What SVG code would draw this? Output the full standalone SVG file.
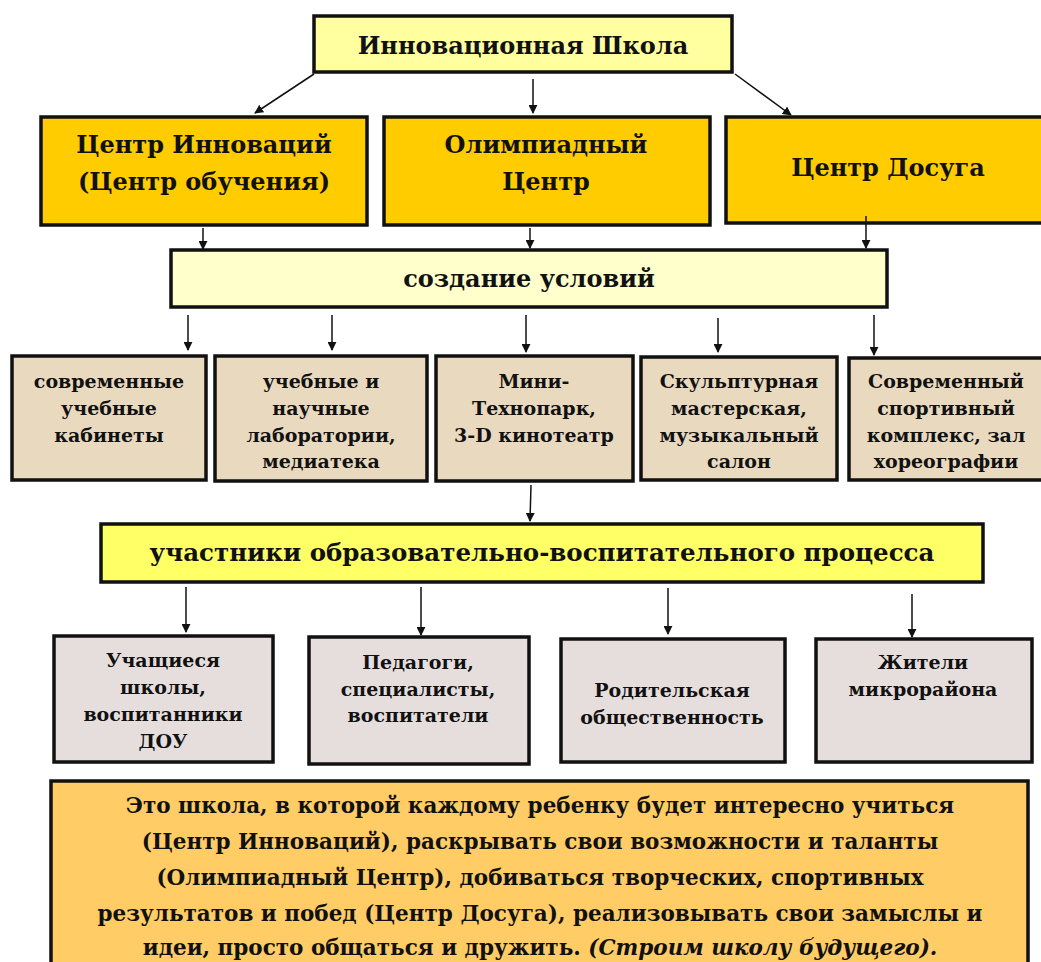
<svg xmlns="http://www.w3.org/2000/svg" width="1041" height="962" viewBox="0 0 1041 962">
<style>
.b{stroke:#111;stroke-width:3.5}
.t{font-family:"DejaVu Serif","Liberation Serif",serif;font-weight:bold;fill:#111;text-anchor:middle}
.l{font-size:24px}
.w{font-size:24.5px}
.m{font-size:19px}
.s{font-size:21.5px}
.c{stroke:#111;stroke-width:1.5;fill:none;marker-end:url(#a)}
</style>
<defs>
<marker id="a" viewBox="0 0 10 10" refX="9" refY="5" markerWidth="9" markerHeight="9" markerUnits="userSpaceOnUse" orient="auto"><path d="M0,0 L10,5 L0,10 z" fill="#111"/></marker>
</defs>
<rect width="1041" height="962" fill="#fff"/>
<g id="n-school"><rect class="b" x="314" y="16" width="418" height="56" fill="#ffffa0"/><text class="t l" x="523" y="54">Инновационная Школа</text></g>
<g id="n-innov"><rect class="b" x="41" y="117" width="326" height="108" fill="#ffcc00"/><text class="t l" x="204" y="153">Центр Инноваций</text><text class="t l" x="204" y="190">(Центр обучения)</text></g>
<g id="n-olymp"><rect class="b" x="384" y="117" width="326" height="108" fill="#ffcc00"/><text class="t l" x="546" y="153">Олимпиадный</text><text class="t l" x="546" y="190">Центр</text></g>
<g id="n-dosug"><rect class="b" x="726" y="117" width="330" height="106" fill="#ffcc00"/><text class="t l" x="888" y="176">Центр Досуга</text></g>
<g id="n-uslov"><rect class="b" x="171" y="250" width="716" height="57" fill="#ffffcc"/><text class="t l" x="529" y="287">создание условий</text></g>
<g id="n-kab"><rect class="b" x="12" y="356" width="194" height="124" fill="#e8d9bf"/><text class="t m" x="109" y="388">современные</text><text class="t m" x="109" y="415">учебные</text><text class="t m" x="109" y="442">кабинеты</text></g>
<g id="n-lab"><rect class="b" x="215" y="356" width="212" height="125" fill="#e8d9bf"/><text class="t m" x="321" y="388">учебные и</text><text class="t m" x="321" y="415">научные</text><text class="t m" x="321" y="442">лаборатории,</text><text class="t m" x="321" y="468">медиатека</text></g>
<g id="n-tech"><rect class="b" x="436" y="356" width="197" height="125" fill="#e8d9bf"/><text class="t m" x="534" y="388">Мини-</text><text class="t m" x="534" y="415">Технопарк,</text><text class="t m" x="534" y="442">3-D кинотеатр</text></g>
<g id="n-sculpt"><rect class="b" x="641" y="357" width="196" height="123" fill="#e8d9bf"/><text class="t m" x="739" y="388">Скульптурная</text><text class="t m" x="739" y="415">мастерская,</text><text class="t m" x="739" y="442">музыкальный</text><text class="t m" x="739" y="468">салон</text></g>
<g id="n-sport"><rect class="b" x="849" y="358" width="200" height="122" fill="#e8d9bf"/><text class="t m" x="946" y="388">Современный</text><text class="t m" x="946" y="415">спортивный</text><text class="t m" x="946" y="442">комплекс, зал</text><text class="t m" x="946" y="468">хореографии</text></g>
<g id="n-uch"><rect class="b" x="101" y="524" width="882" height="58" fill="#ffff66"/><text class="t w" x="542" y="561">участники образовательно-воспитательного процесса</text></g>
<g id="n-pupils"><rect class="b" x="54" y="636" width="219" height="126" fill="#e6dedd"/><text class="t m" x="163" y="667">Учащиеся</text><text class="t m" x="163" y="694">школы,</text><text class="t m" x="163" y="721">воспитанники</text><text class="t m" x="163" y="748">ДОУ</text></g>
<g id="n-ped"><rect class="b" x="309" y="637" width="220" height="127" fill="#e6dedd"/><text class="t m" x="418" y="669">Педагоги,</text><text class="t m" x="418" y="696">специалисты,</text><text class="t m" x="418" y="722">воспитатели</text></g>
<g id="n-par"><rect class="b" x="561" y="639" width="224" height="123" fill="#e6dedd"/><text class="t m" x="672" y="697">Родительская</text><text class="t m" x="672" y="724">общественность</text></g>
<g id="n-res"><rect class="b" x="816" y="639" width="216" height="123" fill="#e6dedd"/><text class="t m" x="923" y="669">Жители</text><text class="t m" x="923" y="696">микрорайона</text></g>
<g id="n-note"><rect class="b" x="51" y="781" width="977" height="195" fill="#ffcc66"/>
<text class="t s" x="540" y="813">Это школа, в которой каждому ребенку будет интересно учиться</text>
<text class="t s" x="540" y="849">(Центр Инноваций), раскрывать свои возможности и таланты</text>
<text class="t s" x="540" y="885">(Олимпиадный Центр), добиваться творческих, спортивных</text>
<text class="t s" x="540" y="921">результатов и побед (Центр Досуга), реализовывать свои замыслы и</text>
<text class="t s" x="540" y="955">идеи, просто общаться и дружить. <tspan font-style="italic">(Строим школу будущего).</tspan></text></g>
<g id="connectors">
<line class="c" x1="314" y1="74" x2="255" y2="113"/>
<line class="c" x1="533" y1="79" x2="533" y2="113"/>
<line class="c" x1="735" y1="74" x2="791" y2="115"/>
<line class="c" x1="203" y1="228" x2="203" y2="249"/>
<line class="c" x1="530" y1="228" x2="530" y2="248"/>
<line class="c" x1="866" y1="216" x2="866" y2="248"/>
<line class="c" x1="188" y1="315" x2="188" y2="350"/>
<line class="c" x1="332" y1="315" x2="332" y2="350"/>
<line class="c" x1="526" y1="315" x2="526" y2="352"/>
<line class="c" x1="718" y1="318" x2="718" y2="352"/>
<line class="c" x1="874" y1="315" x2="874" y2="355"/>
<line class="c" x1="531" y1="485" x2="530" y2="521"/>
<line class="c" x1="186" y1="587" x2="186" y2="632"/>
<line class="c" x1="421" y1="587" x2="421" y2="635"/>
<line class="c" x1="668" y1="588" x2="668" y2="634"/>
<line class="c" x1="912" y1="594" x2="912" y2="637"/>
</g>
</svg>
